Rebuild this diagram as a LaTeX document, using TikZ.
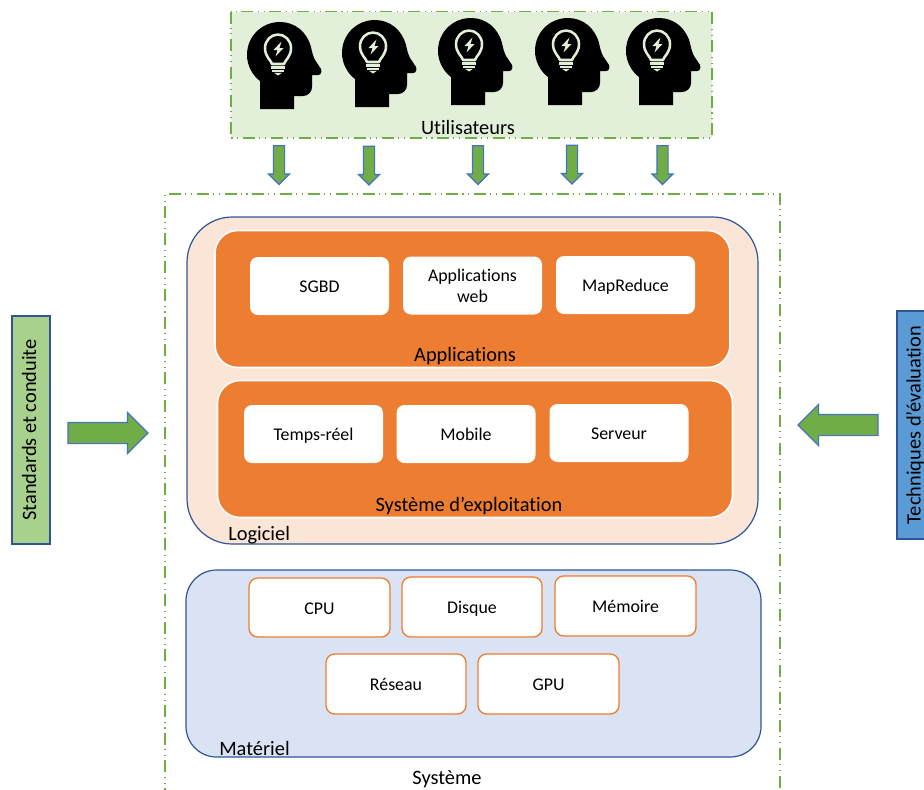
\documentclass[tikz,border=0pt]{standalone}
\usepackage{fontspec}
\setmainfont[Ligatures=NoCommon]{Carlito}
\usetikzlibrary{shapes.arrows}
\definecolor{dashgreen}{HTML}{70AD47}
\definecolor{palegreen}{HTML}{E2F0D9}
\definecolor{midgreen}{HTML}{A9D18E}
\definecolor{deepblue}{HTML}{2F5597}
\definecolor{arrowblue}{HTML}{4472C4}
\definecolor{paleorange}{HTML}{FBE5D6}
\definecolor{paleblue}{HTML}{DAE3F3}
\definecolor{orangefill}{HTML}{ED7D31}
\definecolor{skyblue}{HTML}{5B9BD5}
\tikzset{
  sized/.style 2 args={minimum width=#1*0.75pt, minimum height=#2*0.75pt, inner sep=0pt, outer sep=0pt},
  smalltxt/.style={font=\fontsize{13.4}{15.8}\selectfont, align=center, text=black},
  oneline/.style={text height=11.5pt, text depth=1.5pt},
  bigtxt/.style={font=\fontsize{15.3}{18}\selectfont, inner sep=0pt, text=black},
  dashline/.style={draw=dashgreen, line width=0.8pt, dash pattern=on 9pt off 3pt on 0.8pt off 3.6pt on 0.8pt off 3.6pt},
  softbox/.style={fill=white, rounded corners=6pt, smalltxt},
  ringedbox/.style={fill=white, draw=orangefill, line width=1pt, rounded corners=6.5pt, smalltxt, oneline},
  layerbox/.style={fill=orangefill, draw=white, line width=1.2pt, rounded corners=17pt},
  bigarrow/.style={shape=single arrow, draw=arrowblue, line width=0.9pt, fill=dashgreen, inner xsep=0pt, inner ysep=7.5pt, outer sep=0pt,
     single arrow tip angle=90, anchor=tip, minimum width=30pt, minimum height=60pt, single arrow head extend=7.5pt},
  downarrow/.style={shape=single arrow, draw=arrowblue, line width=0.9pt, fill=dashgreen, inner xsep=0pt, inner ysep=3.75pt, outer sep=0pt,
     single arrow tip angle=90, anchor=tip, rotate=-90, minimum width=15pt, minimum height=29pt, single arrow head extend=3.75pt},
  pics/headicon/.style={code={
    \fill[black] (13,87) -- (13,59) .. controls (5,53) and (0,43) .. (0,33)
      .. controls (0,14) and (15,0) .. (33,0) .. controls (48,0) and (60,10) .. (64,25)
      .. controls (65,30) and (66,34) .. (68,38) -- (74,47) .. controls (75,50) and (74,53) .. (71,53)
      -- (65,53) -- (65,65) .. controls (65,70) and (61,74) .. (56,74) -- (47,74) -- (47,87) -- cycle;
    \draw[palegreen, line width=1.9pt, line join=round]
      (25,42) .. controls (24,38) and (18,35) .. (18,26) .. controls (18,18.5) and (24,12.5) .. (31,12.5)
      .. controls (38,12.5) and (44,18.5) .. (44,26) .. controls (44,35) and (38,38) .. (37,42) -- cycle;
    \draw[palegreen, line width=1.6pt] (24,45.5) -- (38,45.5) (25,48.7) -- (37,48.7);
    \fill[palegreen] (27,50.8) -- (35,50.8) -- (31,53.5) -- cycle;
    \fill[palegreen] (34.5,19.5) -- (26.5,28) -- (30.5,28) -- (28.5,34.5) -- (36.5,26) -- (32.5,26) -- cycle;
  }}
}
\begin{document}
\begin{tikzpicture}[x=0.75pt,y=-0.75pt]
\useasboundingbox (0,0) rectangle (924,789);
\clip (0,0) rectangle (924,789);

% users
\draw[dashline, fill=palegreen] (231,11.5) rectangle (712,138);
\pic (h1) at (247,22) {headicon};
\pic (h2) at (342,20) {headicon};
\pic (h3) at (438,18) {headicon};
\pic (h4) at (535,18) {headicon};
\pic (h5) at (626,18) {headicon};
\node[bigtxt] (users) at (468,127) {Utilisateurs};

\node[downarrow] (d1) at (279,184.5) {};
\node[downarrow] (d2) at (369,185) {};
\node[downarrow] (d3) at (478,184.5) {};
\node[downarrow] (d4) at (572,184) {};
\node[downarrow] (d5) at (662.5,184.5) {};

% system frame
\draw[dashline] (165,800) -- (165,194) -- (780,194) -- (780,800);

% software
\node[sized={571}{327}, fill=paleorange, draw=deepblue, line width=0.9pt, rounded corners=34pt] (soft) at (472.5,380.5) {};
\node[sized={515}{137}, layerbox] (apps) at (472.5,299) {};
\node[sized={515}{137}, layerbox] (os) at (475,449) {};
\node[sized={139}{58}, softbox, oneline] (sgbd) at (319.5,286) {SGBD};
\node[sized={139}{58}, softbox] (web) at (472.5,285.5) {Applications\\web};
\node[sized={139}{58}, softbox, oneline] (mr) at (625.5,285) {MapReduce};
\node[sized={139}{58}, softbox, oneline] (rt) at (313.5,434) {Temps-réel};
\node[sized={139}{58}, softbox, oneline] (mob) at (466,434) {Mobile};
\node[sized={139}{58}, softbox, oneline] (srv) at (619,433) {Serveur};
\node[bigtxt] (appslabel) at (465,356.5) {Applications};
\node[bigtxt] (oslabel) at (469,506) {Système d’exploitation};
\node[bigtxt, anchor=west] (softlabel) at (228,535) {Logiciel};

% hardware
\node[sized={575}{187}, fill=paleblue, draw=deepblue, line width=0.9pt, rounded corners=23pt] (hard) at (473.5,663.5) {};
\node[sized={141}{59}, ringedbox] (cpu) at (319.5,607.5) {CPU};
\node[sized={140}{60}, ringedbox] (disk) at (472,607) {Disque};
\node[sized={141}{60}, ringedbox] (mem) at (625.5,606) {Mémoire};
\node[sized={140}{60}, ringedbox] (net) at (396,684) {Réseau};
\node[sized={141}{60}, ringedbox] (gpu) at (548.5,684) {GPU};
\node[bigtxt, anchor=west] (hardlabel) at (219,748) {Matériel};
\node[bigtxt] (syslabel) at (447,779.5) {Système};

% side panels
\node[sized={228}{38}, rotate=90, fill=midgreen, draw=deepblue, line width=0.9pt, bigtxt, text depth=3pt] (std) at (31,430) {Standards et conduite\hspace{3.8pt}};
\node[sized={228}{36}, rotate=90, fill=skyblue, draw=deepblue, line width=0.9pt, bigtxt] (tech) at (915,425) {Techniques d’évaluation};
\node[bigarrow] (la) at (148,433) {};
\node[bigarrow, rotate=180] (ra) at (798,425) {};
\end{tikzpicture}
\end{document}
